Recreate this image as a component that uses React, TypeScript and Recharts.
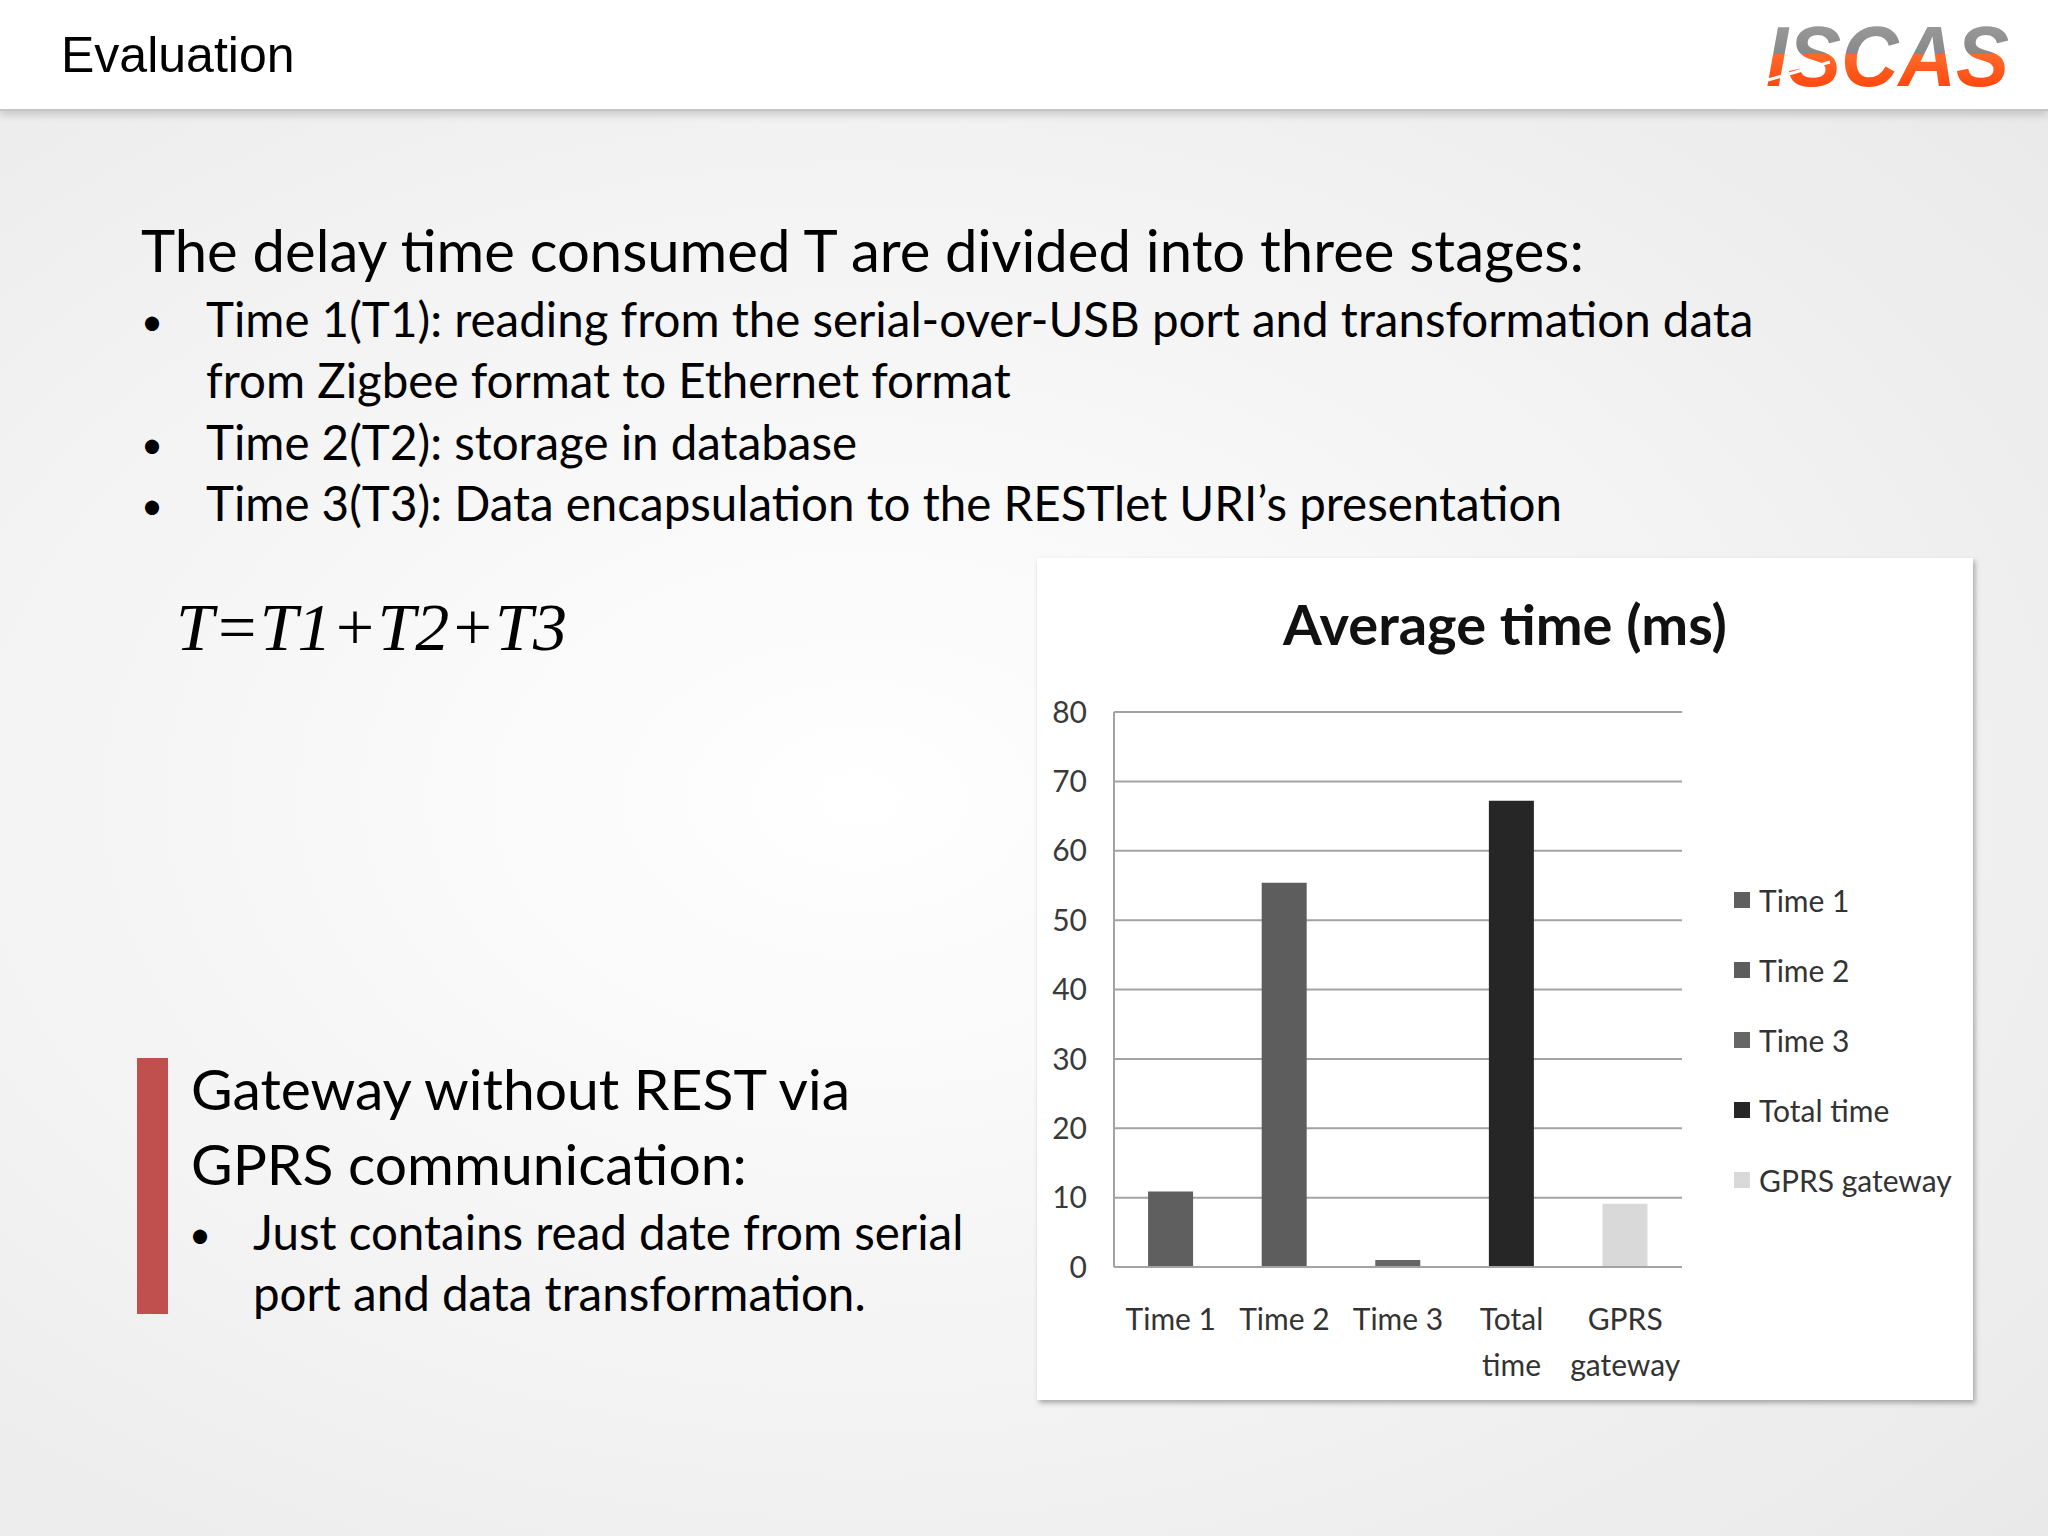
import { BarChart, Bar, XAxis, YAxis, CartesianGrid, Cell, Legend } from "recharts";

// chart data
const categories = ["Time 1", "Time 2", "Time 3", "Total time", "GPRS gateway"];
const tickLines = [["Time 1"], ["Time 2"], ["Time 3"], ["Total", "time"], ["GPRS", "gateway"]];
const avgTimes = [10.9, 55.4, 1.0, 67.2, 9.1];
const barColors = ["#5f5f5f", "#5d5d5d", "#666666", "#262626", "#d9d9d9"];
const yTicks = [0, 10, 20, 30, 40, 50, 60, 70, 80];

const data = categories.map((name, i) => ({ name, value: avgTimes[i] }));

const FONT = "Lato, 'Open Sans', sans-serif";

function XTick(props: any) {
  const { x, y, payload } = props;
  const idx = categories.indexOf(payload.value);
  const lines = tickLines[idx] || [payload.value];
  return (
    <g>
      {lines.map((line, i) => (
        <text
          key={line}
          x={x}
          y={y + 55 + i * 46}
          textAnchor="middle"
          fontFamily={FONT}
          fontSize={30}
          fill="#333"
        >
          {line}
        </text>
      ))}
    </g>
  );
}

function LegendBox() {
  return (
    <div style={{ fontFamily: FONT, fontSize: 30, color: "#333" }}>
      {categories.map((c, i) => (
        <div key={c} style={{ display: "flex", alignItems: "center", height: 70 }}>
          <span
            style={{
              display: "inline-block",
              width: 16,
              height: 16,
              background: barColors[i],
              marginRight: 9,
            }}
          />
          {c}
        </div>
      ))}
    </div>
  );
}

// ISCAS logo: grey upper half, orange lower half
function Logo() {
  return (
    <g>
      <defs>
        <linearGradient id="logoFill" gradientUnits="userSpaceOnUse" x1="0" y1="24" x2="0" y2="86">
          <stop offset="0%" stopColor="#9a9a9a" />
          <stop offset="48%" stopColor="#888888" />
          <stop offset="48%" stopColor="#ff6a2a" />
          <stop offset="100%" stopColor="#ff4a10" />
        </linearGradient>
      </defs>
      <text
        x={1766}
        y={86}
        fontFamily="'Liberation Sans', Arial, sans-serif"
        fontWeight="bold"
        fontStyle="italic"
        fontSize={86}
        textLength={243}
        lengthAdjust="spacingAndGlyphs"
        fill="url(#logoFill)"
      >
        ISCAS
      </text>
      <line x1={1768} y1={80} x2={1830} y2={62} stroke="#fff" strokeWidth={3} />
    </g>
  );
}

export default function App() {
  return (
    <div
      style={{
        position: "absolute",
        left: 0,
        top: 0,
        width: 2048,
        height: 1536,
        overflow: "hidden",
        background:
          "radial-gradient(ellipse at 42% 52%, #ffffff 0%, #f6f6f6 40%, #e8e8e8 100%)",
      }}
    >
      {/* Header band */}
      <div
        style={{
          position: "absolute",
          left: 0,
          top: 0,
          width: 2048,
          height: 109,
          background: "#fff",
          borderBottom: "2px solid #c6c6c6",
          boxShadow: "0 4px 8px rgba(0,0,0,0.16)",
        }}
      />

      {/* Slide text */}
      <svg
        width={2048}
        height={1536}
        style={{ position: "absolute", left: 0, top: 0 }}
      >
        <text x={61} y={72} fontFamily="'Liberation Sans', Arial, sans-serif" fontSize={50} fill="#000">
          Evaluation
        </text>
        <Logo />

        <g fontFamily={FONT} fill="#000">
          <text x={141} y={272} fontSize={58}>
            The delay time consumed T are divided into three stages:
          </text>
          <text x={141} y={335} fontSize={38}>•</text>
          <text x={206} y={337} fontSize={47.5}>
            Time 1(T1): reading from the serial-over-USB port and transformation data
          </text>
          <text x={206} y={398} fontSize={47.5}>
            from Zigbee format to Ethernet format
          </text>
          <text x={141} y={458} fontSize={38}>•</text>
          <text x={206} y={460} fontSize={47.5}>
            Time 2(T2): storage in database
          </text>
          <text x={141} y={519} fontSize={38}>•</text>
          <text x={206} y={521} fontSize={47.5}>
            Time 3(T3): Data encapsulation to the RESTlet URI’s presentation
          </text>

          <text x={191} y={1110} fontSize={57}>
            Gateway without REST via
          </text>
          <text x={191} y={1185} fontSize={57}>
            GPRS communication:
          </text>
          <text x={189} y={1248} fontSize={38}>•</text>
          <text x={253} y={1250} fontSize={47.5}>
            Just contains read date from serial
          </text>
          <text x={253} y={1311} fontSize={47.5}>
            port and data transformation.
          </text>
        </g>

        <text
          x={176}
          y={650}
          fontFamily="'Liberation Serif', 'Times New Roman', serif"
          fontStyle="italic"
          fontSize={68}
          fill="#000"
        >
          T=T1+T2+T3
        </text>

        <rect x={137} y={1058} width={31} height={256} fill="#c0504d" />
      </svg>

      {/* Chart card */}
      <div
        style={{
          position: "absolute",
          left: 1037,
          top: 558,
          width: 936,
          height: 842,
          background: "#fff",
          boxShadow: "2px 3px 5px rgba(0,0,0,0.3)",
        }}
      >
        <div
          style={{
            position: "absolute",
            left: 0,
            top: 32,
            width: 936,
            textAlign: "center",
            fontFamily: FONT,
            fontWeight: 700,
            fontSize: 56,
            color: "#111",
          }}
        >
          Average time (ms)
        </div>
        <BarChart
          width={936}
          height={842}
          data={data}
          margin={{ top: 154, right: 291, bottom: 33, left: 17 }}
          barCategoryGap="30%"
        >
          <CartesianGrid vertical={false} stroke="#a3a3a3" strokeWidth={2} />
          <XAxis
            dataKey="name"
            height={100}
            axisLine={{ stroke: "#a3a3a3", strokeWidth: 2 }}
            tickLine={false}
            tickMargin={2}
            interval={0}
            tick={<XTick />}
          />
          <YAxis
            width={60}
            domain={[0, 80]}
            ticks={yTicks}
            axisLine={{ stroke: "#a3a3a3", strokeWidth: 2 }}
            tickLine={false}
            tickMargin={21}
            tick={{ fill: "#3a3a3a", fontSize: 30, fontFamily: FONT }}
          />
          <Legend
            layout="horizontal"
            verticalAlign="middle"
            align="center"
            content={<LegendBox />}
            wrapperStyle={{ left: 697, top: 307, width: 235 }}
          />
          <Bar dataKey="value" isAnimationActive={false}>
            {data.map((d, i) => (
              <Cell key={d.name} fill={barColors[i]} />
            ))}
          </Bar>
        </BarChart>
      </div>
    </div>
  );
}
